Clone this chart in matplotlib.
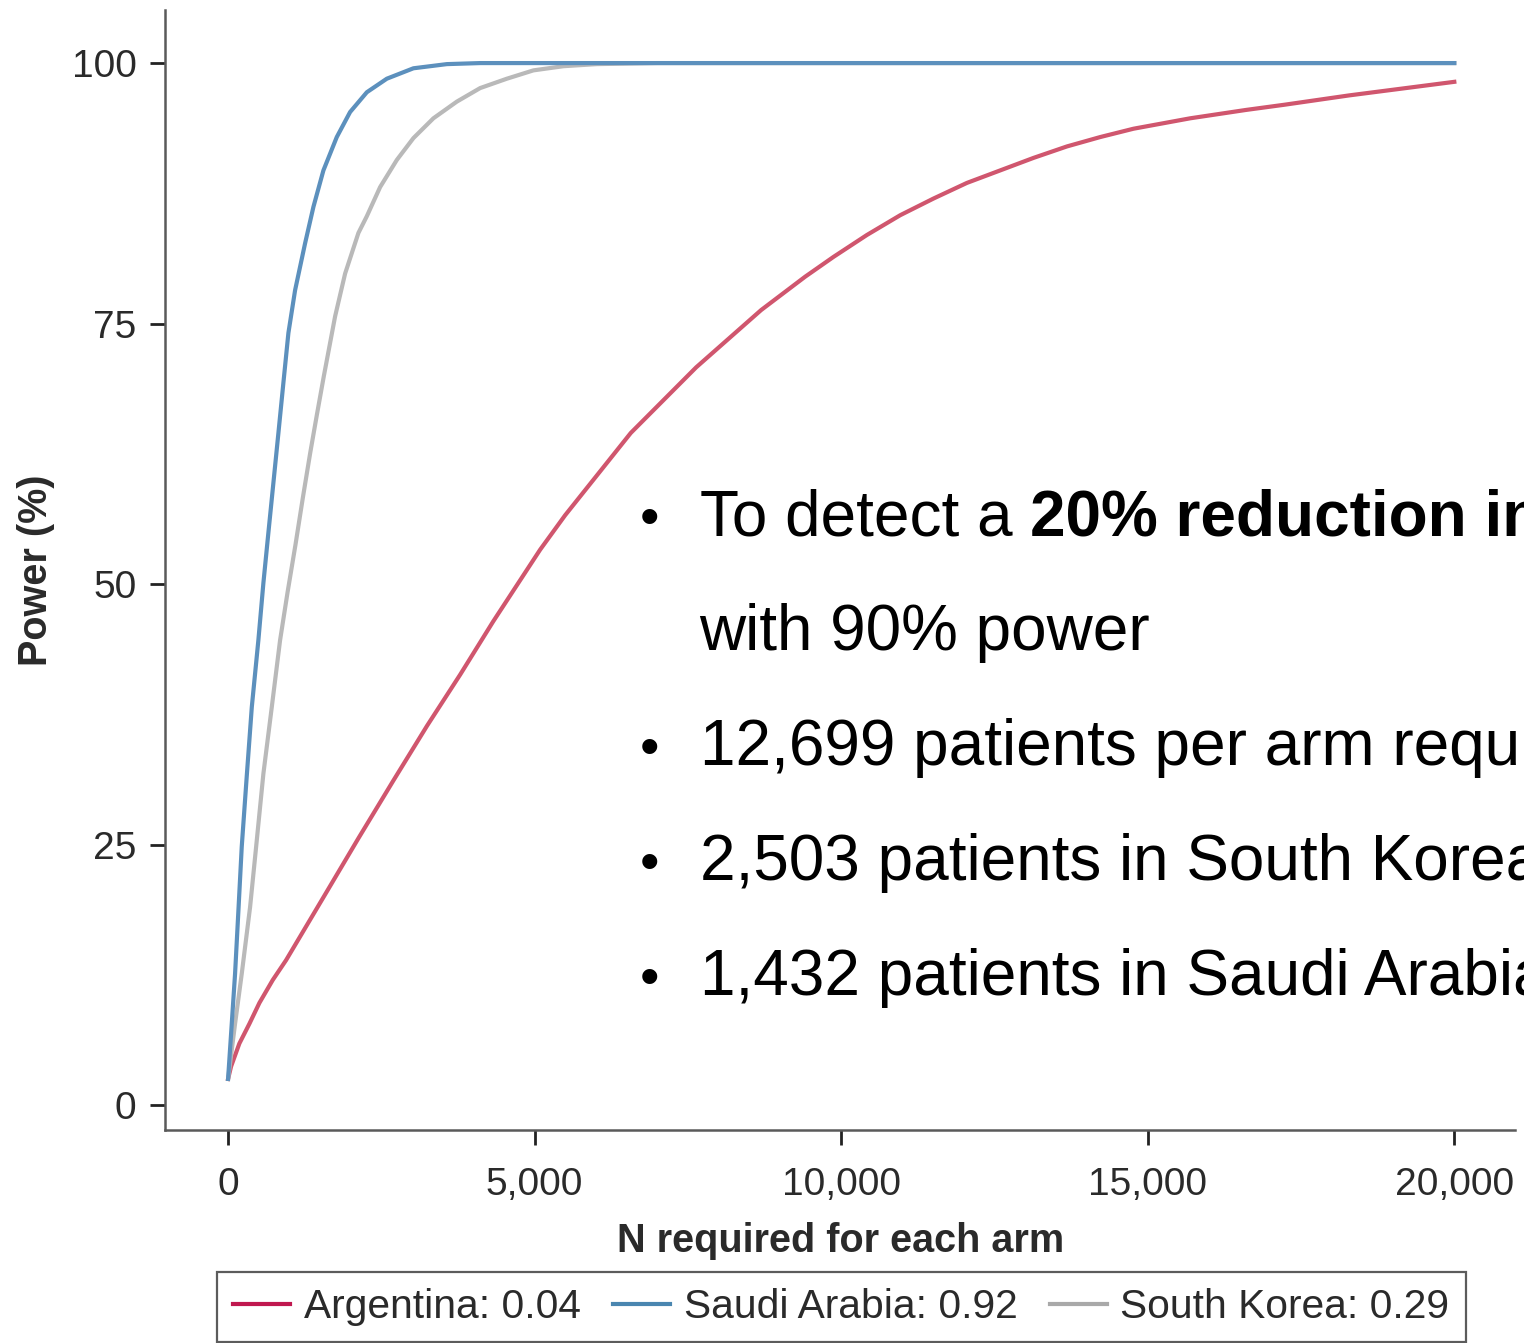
import numpy as np
from matplotlib import pyplot as plt
from matplotlib.lines import Line2D

# ---------------- data ----------------
n_argentina = [0, 49, 184, 348, 511, 729, 946, 1582, 2126, 2692, 3246, 3785, 4323,
               5090, 5497, 6568, 7635, 8695, 9413, 9875, 10419, 10963, 11506, 12051,
               12594, 13137, 13682, 14225, 14768, 15693, 16600, 17227, 18287, 20000]
p_argentina = [2.5, 3.7, 5.9, 7.8, 9.8, 12.0, 13.9, 20.2, 25.6, 31.1, 36.4, 41.3, 46.4,
               53.3, 56.6, 64.5, 70.8, 76.3, 79.5, 81.4, 83.5, 85.4, 87.0, 88.5,
               89.7, 90.9, 92.0, 92.9, 93.7, 94.7, 95.5, 96.0, 96.9, 98.2]

n_saudi = [0, 60, 114, 168, 223, 305, 387, 494, 576, 657, 739, 821, 902, 984, 1093,
           1256, 1392, 1555, 1773, 1990, 2263, 2589, 3023, 3568, 4111, 6000, 10000, 20000]
p_saudi = [2.5, 7.8, 12.6, 18.6, 24.8, 31.6, 38.2, 44.6, 50.1, 54.9, 59.7, 64.5, 69.3,
           74.1, 78.2, 82.7, 86.2, 89.7, 92.9, 95.3, 97.2, 98.5, 99.5, 99.9, 100,
           100, 100, 100]

n_korea = [0, 114, 223, 359, 468, 576, 713, 848, 970, 1100, 1220, 1340, 1450, 1560,
           1746, 1909, 2126, 2263, 2480, 2752, 3023, 3349, 3731, 4111, 4547, 4980,
           5470, 6015, 7000, 10000, 20000]
p_korea = [2.5, 7.8, 12.6, 19.0, 25.4, 31.8, 38.2, 44.6, 49.2, 53.8, 58.3, 62.6, 66.3,
           69.9, 75.7, 79.8, 83.7, 85.3, 88.1, 90.7, 92.8, 94.7, 96.3, 97.6, 98.5,
           99.3, 99.7, 99.9, 100, 100, 100]

labels = ["Argentina: 0.04", "Saudi Arabia: 0.92", "South Korea: 0.29"]
x_ticks = [0, 5000, 10000, 15000, 20000]
x_tick_labels = ["0", "5,000", "10,000", "15,000", "20,000"]
y_ticks = [0, 25, 50, 75, 100]

bullet_lines = [
    ("To detect a ", "20% reduction in"),
    ("with 90% power", None),
    ("12,699 patients per arm required", None),
    ("2,503 patients in South Korea", None),
    ("1,432 patients in Saudi Arabia", None),
]

# ---------------- styling ----------------
plt.rcParams['font.family'] = ['Liberation Sans', 'DejaVu Sans']

curve_cols = ['#d0566e', '#5c90bd', '#b9b9b9']
legend_cols = ['#c0184f', '#4a86b0', '#a9a9a9']

fig = plt.figure(figsize=(15.24, 13.43), dpi=100)
ax = fig.add_axes([0.1083, 0.1586, 0.886, 0.834])

ax.plot(n_argentina, p_argentina, color=curve_cols[0], lw=3, solid_joinstyle='round')
ax.plot(n_korea, p_korea, color=curve_cols[2], lw=3, solid_joinstyle='round')
ax.plot(n_saudi, p_saudi, color=curve_cols[1], lw=3, solid_joinstyle='round')

ax.set_xlim(-1028, 20995)
ax.set_ylim(-2.4, 105.1)
ax.set_xticks(x_ticks)
ax.set_xticklabels(x_tick_labels)
ax.set_yticks(y_ticks)

for s in ['top', 'right']:
    ax.spines[s].set_visible(False)
for s in ['left', 'bottom']:
    ax.spines[s].set_color('#5a5a5a')
    ax.spines[s].set_linewidth(1.8)

ax.tick_params(axis='both', length=10.5, width=2, color='#222222',
               labelsize=28, labelcolor='#2a2a2a', pad=10)
ax.tick_params(axis='x', pad=16)

ax.set_xlabel("N required for each arm", fontsize=28.5, fontweight='bold',
              color='#2a2a2a', labelpad=14)
ax.set_ylabel("Power (%)", fontsize=28.5, fontweight='bold',
              color='#2a2a2a', labelpad=12)

# legend below the plot
handles = [Line2D([], [], color=c, lw=3) for c in legend_cols]
leg = fig.legend(handles, labels, loc='upper center', bbox_to_anchor=(0.552, 0.053),
                 ncol=3, fontsize=29.3, frameon=True, fancybox=False,
                 handlelength=1.4, handletextpad=0.34, columnspacing=0.79,
                 borderpad=0.4, borderaxespad=0)
leg.get_frame().set_edgecolor('#333333')
leg.get_frame().set_linewidth(1.6)
for t in leg.get_texts():
    t.set_color('#2a2a2a')

# bullet annotation (runs off the right edge, as in the original slide)
baselines = [0.6016, 0.516, 0.4304, 0.3447, 0.2591]
for (normal, bold), yb in zip(bullet_lines, baselines):
    if not normal.startswith("with"):
        fig.text(0.4265, yb, "\u2022", fontsize=40, va='baseline', ha='center')
    t1 = fig.text(0.459, yb, normal, fontsize=46, va='baseline')
    if bold:
        fig.canvas.draw()
        bb = t1.get_window_extent()
        fig.text(bb.x1 / fig.bbox.width, yb, bold, fontsize=46,
                 fontweight='bold', va='baseline')

fig.savefig("out.png", dpi=100)
